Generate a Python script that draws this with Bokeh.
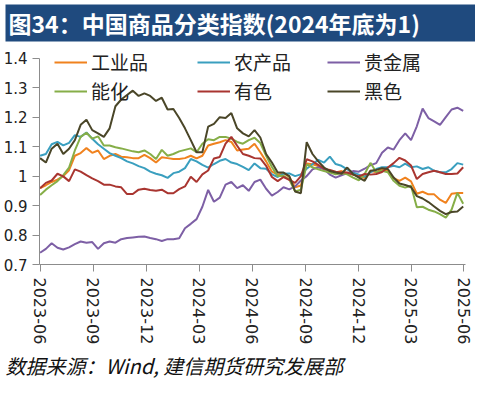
import pandas as pd
from bokeh.plotting import figure
from bokeh.models import (Range1d, FixedTicker, DatetimeTickFormatter, NumeralTickFormatter,
                          Legend, LegendItem, Title)
from bokeh.embed import file_html
from bokeh.resources import INLINE

# ---------------- data ----------------
start_date = "2023-06-30"
step_days = 10

industrial = [0.959, 0.969, 0.980, 0.988, 1.000, 1.020, 1.069, 1.078, 1.095, 1.079, 1.087, 1.058, 1.069, 1.075, 1.066, 1.064, 1.061, 1.061,
              1.072, 1.061, 1.046, 1.064, 1.061, 1.058, 1.058, 1.061, 1.069, 1.060, 1.069, 1.104, 1.110, 1.115, 1.122, 1.116, 1.087, 1.090,
              1.093, 1.110, 1.081, 1.050, 1.015, 1.005, 1.010, 0.997, 0.962, 0.968, 1.043, 1.040, 1.034, 1.023, 1.017, 1.012, 1.017, 1.010,
              1.005, 0.999, 0.993, 1.018, 1.013, 1.024, 1.018, 0.993, 0.984, 0.995, 0.982, 0.940, 0.947, 0.938, 0.938, 0.920, 0.909, 0.940, 0.943, 0.943]
agri = [1.069, 1.075, 1.108, 1.116, 1.104, 1.113, 1.139, 1.133, 1.148, 1.127, 1.108, 1.093, 1.078, 1.069, 1.061, 1.050, 1.043, 1.034,
        1.027, 1.015, 1.008, 1.003, 0.994, 1.010, 1.015, 1.027, 1.058, 1.050, 1.038, 1.029, 1.041, 1.052, 1.058, 1.046, 1.041, 1.031,
        1.020, 1.043, 1.027, 1.025, 1.006, 0.997, 1.008, 1.009, 1.000, 1.006, 1.025, 1.040, 1.055, 1.046, 1.066, 1.041, 1.035, 1.023,
        1.012, 1.005, 0.998, 1.013, 1.024, 1.030, 1.030, 1.035, 1.030, 1.042, 1.030, 1.033, 1.024, 1.030, 1.018, 1.013, 1.013, 1.024, 1.044, 1.039]
precious = [0.740, 0.753, 0.772, 0.757, 0.751, 0.758, 0.769, 0.778, 0.774, 0.776, 0.753, 0.772, 0.778, 0.774, 0.786, 0.790, 0.792, 0.794,
            0.795, 0.790, 0.786, 0.780, 0.786, 0.786, 0.789, 0.823, 0.838, 0.854, 0.896, 0.953, 0.913, 0.927, 0.971, 0.980, 0.959, 0.969,
            0.950, 0.980, 0.988, 0.957, 0.934, 0.946, 0.962, 0.955, 0.965, 0.985, 1.000, 1.023, 1.030, 1.023, 1.005, 0.995, 1.003, 1.010,
            1.017, 1.015, 1.025, 1.037, 1.044, 1.079, 1.097, 1.090, 1.122, 1.145, 1.122, 1.169, 1.229, 1.197, 1.186, 1.174, 1.200, 1.226, 1.232, 1.221]
energy = [0.936, 0.954, 0.969, 0.983, 1.003, 1.029, 1.087, 1.133, 1.147, 1.127, 1.135, 1.104, 1.104, 1.098, 1.094, 1.089, 1.084, 1.081,
          1.087, 1.075, 1.058, 1.089, 1.069, 1.075, 1.084, 1.089, 1.094, 1.081, 1.110, 1.125, 1.122, 1.133, 1.133, 1.127, 1.116, 1.110,
          1.122, 1.130, 1.112, 1.069, 1.031, 1.000, 1.001, 0.988, 0.948, 0.954, 1.040, 1.030, 1.023, 1.017, 1.012, 1.006, 1.010, 1.006,
          0.995, 0.986, 1.007, 1.045, 1.013, 1.018, 1.013, 0.984, 0.967, 0.961, 0.967, 0.894, 0.896, 0.886, 0.880, 0.871, 0.859, 0.886, 0.943, 0.906]
nonferrous = [0.959, 0.977, 0.985, 1.008, 0.999, 0.983, 1.023, 1.015, 1.003, 0.992, 0.983, 0.971, 0.971, 0.965, 0.962, 0.939, 0.939, 0.954,
              0.957, 0.953, 0.950, 0.954, 0.942, 0.942, 0.956, 0.965, 0.998, 0.980, 1.006, 1.019, 1.060, 1.065, 1.110, 1.133, 1.103, 1.075,
              1.069, 1.061, 1.060, 1.035, 0.997, 0.983, 0.997, 0.987, 0.977, 1.000, 1.057, 1.050, 1.038, 1.025, 1.021, 1.015, 1.012, 1.012,
              1.005, 0.999, 1.007, 1.005, 1.007, 1.014, 1.029, 1.044, 1.062, 1.053, 1.036, 0.990, 1.007, 1.013, 1.018, 1.013, 1.007, 1.007, 1.009, 1.030]
ferrous = [1.061, 1.046, 1.093, 1.110, 1.075, 1.093, 1.122, 1.174, 1.191, 1.156, 1.145, 1.133, 1.162, 1.237, 1.260, 1.275, 1.290, 1.272,
           1.281, 1.272, 1.255, 1.266, 1.226, 1.228, 1.197, 1.162, 1.122, 1.081, 1.081, 1.168, 1.177, 1.200, 1.197, 1.214, 1.162, 1.145,
           1.135, 1.156, 1.131, 1.075, 1.046, 1.012, 1.012, 1.000, 0.948, 0.942, 1.115, 1.075, 1.050, 1.029, 1.017, 1.012, 1.008, 1.029,
           1.007, 0.995, 0.984, 1.018, 1.021, 1.027, 1.024, 0.995, 0.975, 0.970, 0.963, 0.932, 0.924, 0.912, 0.897, 0.882, 0.871, 0.878, 0.880, 0.897]

series_names = ["工业品", "农产品", "贵金属", "能化", "有色", "黑色"]
x_tick_dates = ["2023-06-30", "2023-09-30", "2023-12-31", "2024-03-31", "2024-06-30",
                "2024-09-30", "2024-12-31", "2025-03-31", "2025-06-30"]
y_ticks = [0.7, 0.8, 0.9, 1.0, 1.1, 1.2, 1.3, 1.4]

title_text = "图34：中国商品分类指数(2024年底为1)"
source_text = "数据来源：Wind, 建信期货研究发展部"

# ---------------- styling ----------------
colors = ["#F0821E", "#3A9FBF", "#7D5FA5", "#86AE48", "#A93530", "#4A4628"]
axis_color = "#8C8C8C"
cjk = "Noto Sans CJK SC"

dates = pd.date_range(start_date, periods=len(industrial), freq=f"{step_days}D")
values = [industrial, agri, precious, energy, nonferrous, ferrous]

p = figure(width=475, height=381, x_axis_type="datetime",
           x_range=Range1d(pd.Timestamp("2023-06-29"), pd.Timestamp("2025-07-03")),
           y_range=Range1d(0.7, 1.45),
           output_backend="svg", toolbar_location=None,
           min_border_left=0, min_border_right=10, min_border_top=0, min_border_bottom=0)
p.title = None
p.outline_line_color = None
p.xgrid.visible = False
p.ygrid.visible = False
p.background_fill_color = "white"
p.border_fill_color = "white"

renderers = []
for name, vals, c in zip(series_names, values, colors):
    r = p.line(dates, vals, line_color=c, line_width=2)
    renderers.append(r)

# axes
p.yaxis.ticker = FixedTicker(ticks=y_ticks)
p.yaxis.formatter = NumeralTickFormatter(format="0.[0]")
p.yaxis.bounds = (y_ticks[0], y_ticks[-1])
p.xaxis.ticker = FixedTicker(ticks=[pd.Timestamp(d).value // 10**6 for d in x_tick_dates])
p.xaxis.formatter = DatetimeTickFormatter(days="%Y-%m", months="%Y-%m", years="%Y-%m",
                                          hours="%Y-%m", minutes="%Y-%m")
p.xaxis.major_label_orientation = "vertical"
for ax in (p.xaxis, p.yaxis):
    ax.axis_line_color = axis_color
    ax.major_tick_line_color = axis_color
    ax.minor_tick_line_color = None
    ax.major_tick_out = 7
    ax.major_tick_in = 0
    ax.major_label_text_font = "DejaVu Sans"
    ax.major_label_text_color = "#222222"
p.yaxis.major_label_text_font_size = "15px"
p.yaxis.major_label_standoff = 5
p.xaxis.major_label_text_font_size = "16px"
p.xaxis.major_label_standoff = 6

# legends: three columns of two rows
legend_cols = [([0, 3], 15), ([1, 4], 158), ([2, 5], 288)]
for idxs, xloc in legend_cols:
    leg = Legend(items=[LegendItem(label=series_names[i], renderers=[renderers[i]]) for i in idxs],
                 location=(xloc, 160), orientation="vertical",
                 background_fill_alpha=0, border_line_alpha=0,
                 label_text_font=cjk, label_text_font_size="19px", label_text_color="#222222",
                 glyph_width=33, glyph_height=20, label_height=20, label_standoff=4,
                 spacing=2, padding=0, margin=0)
    p.add_layout(leg)

# title band
band = Title(text=title_text, align="left", text_color="white", text_font=cjk,
             text_font_size="23px", text_font_style="bold",
             background_fill_color="#1F4A7E",
             padding=dict(left=3, right=56, top=1, bottom=2),
             offset=-34, standoff=4)
p.add_layout(band, "above")

src = Title(text=source_text, align="left", text_color="#111111", text_font=cjk,
            text_font_size="20px", text_font_style="italic", offset=-34, standoff=3)
p.add_layout(src, "below")

open("out.html", "w").write(file_html(p, INLINE))
